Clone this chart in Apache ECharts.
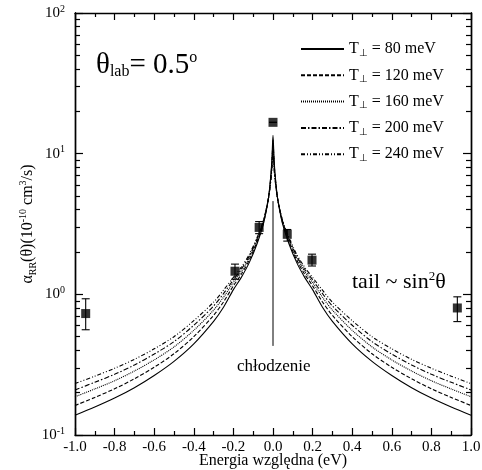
<!DOCTYPE html>
<html><head><meta charset="utf-8">
<script src="https://cdn.jsdelivr.net/npm/echarts@6/dist/echarts.min.js"></script>
<style>html,body{margin:0;padding:0;background:#fff}#c{width:482px;height:470px}</style>
</head><body><div id="c"></div>
<script>
// Energy grid (eV), half side; curves are symmetric about 0
const energyHalf = [0, 0.005, 0.01, 0.02, 0.03, 0.05, 0.08, 0.12, 0.16, 0.2, 0.25, 0.3, 0.4, 0.5, 0.6, 0.7, 0.8, 0.9, 1.0];
const curve80  = [13.5, 9.4, 7.3, 5.2, 4.2, 3.1, 2.30, 1.68, 1.32, 1.08, 0.81, 0.643, 0.445, 0.334, 0.265, 0.217, 0.183, 0.158, 0.138];
const curve120 = [12.5, 8.9, 7.1, 5.17, 4.23, 3.16, 2.375, 1.751, 1.39, 1.149, 0.883, 0.709, 0.50, 0.378, 0.303, 0.251, 0.213, 0.185, 0.162];
const curve160 = [11.7, 8.5, 6.9, 5.15, 4.26, 3.22, 2.443, 1.816, 1.455, 1.214, 0.953, 0.772, 0.555, 0.423, 0.342, 0.285, 0.243, 0.2125, 0.187];
const curve200 = [11.0, 8.2, 6.75, 5.12, 4.28, 3.26, 2.497, 1.869, 1.509, 1.268, 1.012, 0.826, 0.603, 0.461, 0.376, 0.3145, 0.270, 0.237, 0.209];
const curve240 = [10.5, 7.95, 6.6, 5.1, 4.3, 3.3, 2.55, 1.92, 1.56, 1.32, 1.07, 0.88, 0.65, 0.50, 0.41, 0.345, 0.298, 0.262, 0.232];
const curveNames = ['80', '120', '160', '200', '240'];

// measured points
const pointX   = [-0.946, -0.192, -0.07, 0.0, 0.072, 0.197, 0.931];
const pointY   = [0.73, 1.46, 2.99, 16.7, 2.67, 1.75, 0.80];
const pointLow = [0.56, 1.28, 2.70, 16.7, 2.39, 1.59, 0.64];
const pointHigh= [0.93, 1.64, 3.29, 16.7, 2.89, 1.93, 0.96];

// "chłodzenie" (cooling) marker line at E = 0
const coolingX = [0, 0];
const coolingY = [4.6, 0.43];

// tick labels
const xTicks = [-1.0, -0.8, -0.6, -0.4, -0.2, 0.0, 0.2, 0.4, 0.6, 0.8, 1.0];
const yTickValues = [0.1, 1, 10, 100];
const yTickExps = ['-1', '0', '1', '2'];
const yMinorValues = [0.2,0.3,0.4,0.5,0.6,0.7,0.8,0.9,2,3,4,5,6,7,8,9,20,30,40,50,60,70,80,90];

function mirror(ys) {
  const pts = [];
  for (let i = energyHalf.length - 1; i >= 1; i--) pts.push([-energyHalf[i], ys[i]]);
  for (let i = 0; i < energyHalf.length; i++) pts.push([energyHalf[i], ys[i]]);
  return pts;
}

const FONT = 'Liberation Serif';
const dashes = ['solid', [4, 2], [1, 1], [5, 2, 1.5, 2], [4, 2, 1, 2, 1, 2]];
const curves = [curve80, curve120, curve160, curve200, curve240];

const lineSeries = curves.map((c, i) => ({
  name: curveNames[i],
  type: 'line',
  xAxisIndex: 0, yAxisIndex: 0,
  data: mirror(c),
  smooth: 0.3,
  symbol: 'none',
  lineStyle: { color: '#000', width: 1.1, type: dashes[i] },
  itemStyle: { color: '#000' },
  z: 3
}));

const chart = echarts.init(document.getElementById('c'), null, { renderer: 'canvas' });

const axisLineStyle = { show: true, onZero: false, lineStyle: { color: '#000', width: 1.4 } };
const tickStyle = { color: '#000', width: 1.2 };

function yAxisBase(pos) {
  return { type: 'log', position: pos, min: 0.1, max: 100, logBase: 10,
    axisLine: axisLineStyle, splitLine: { show: false } };
}

const option = {
  animation: false,
  backgroundColor: '#fff',
  grid: { left: 75, right: 11, top: 13, bottom: 35, containLabel: false, outerBoundsMode: 'none' },
  legend: {
    orient: 'vertical',
    left: 295, top: 36,
    itemWidth: 43, itemHeight: 14, itemGap: 9.3,
    data: curveNames,
    itemStyle: { opacity: 0 },
    formatter: n => '{t|T}{s|⊥}{t| = ' + n + ' meV}',
    textStyle: {
      fontFamily: FONT, color: '#000',
      rich: {
        t: { fontFamily: FONT, fontSize: 16, color: '#000', lineHeight: 18 },
        s: { fontFamily: FONT, fontSize: 10, color: '#000', lineHeight: 8, verticalAlign: 'bottom' }
      }
    }
  },
  xAxis: [
    {
      type: 'value', position: 'bottom', min: -1, max: 1, interval: 0.2,
      axisLine: axisLineStyle, splitLine: { show: false },
      name: 'Energia względna (eV)', nameLocation: 'middle', nameGap: 18, nameMoveOverlap: false,
      nameTextStyle: { fontFamily: FONT, fontSize: 16, color: '#000' },
      axisTick: { show: true, inside: true, length: 7, lineStyle: tickStyle },
      minorTick: { show: true, splitNumber: 2, length: 4, lineStyle: tickStyle },
      axisLabel: { fontFamily: FONT, fontSize: 15, color: '#000', margin: 5,
        formatter: v => { const t = xTicks.find(a => Math.abs(a - v) < 1e-6); return (t === undefined ? v : t).toFixed(1); } }
    },
    {
      type: 'value', position: 'top', min: -1, max: 1, interval: 0.2,
      axisLine: axisLineStyle, splitLine: { show: false },
      axisTick: { show: true, inside: true, length: 7, lineStyle: tickStyle },
      minorTick: { show: true, splitNumber: 2, length: 4, lineStyle: tickStyle },
      axisLabel: { show: false }
    }
  ],
  yAxis: [
    Object.assign(yAxisBase('left'), {
      name: '{a|α}{sub|RR}{a|(θ)(10}{sup|-10}{a| cm}{sup|3}{a|/s)}',
      nameLocation: 'middle', nameGap: 37, nameRotate: 90, nameMoveOverlap: false,
      nameTextStyle: {
        fontFamily: FONT, fontSize: 16, color: '#000',
        rich: {
          a: { fontFamily: FONT, fontSize: 16, color: '#000', lineHeight: 20 },
          sub: { fontFamily: FONT, fontSize: 10, color: '#000', lineHeight: 10, verticalAlign: 'bottom' },
          sup: { fontFamily: FONT, fontSize: 10, color: '#000', lineHeight: 10, verticalAlign: 'top' }
        }
      },
      axisTick: { show: true, inside: true, length: 8, lineStyle: tickStyle },
      axisLabel: {
        fontFamily: FONT, color: '#000', margin: 10,
        formatter: v => {
          const i = yTickValues.findIndex(t => Math.abs(Math.log10(t) - Math.log10(v)) < 1e-6);
          return i < 0 ? '' : '{b|10}{s|' + yTickExps[i] + '}';
        },
        rich: {
          b: { fontFamily: FONT, fontSize: 15, color: '#000', lineHeight: 18 },
          s: { fontFamily: FONT, fontSize: 10, color: '#000', lineHeight: 10, verticalAlign: 'top' }
        }
      }
    }),
    Object.assign(yAxisBase('right'), {
      axisTick: { show: true, inside: true, length: 8, lineStyle: tickStyle },
      axisLabel: { show: false }
    }),
    Object.assign(yAxisBase('left'), {
      axisTick: { show: true, inside: true, length: 5, customValues: yMinorValues, lineStyle: tickStyle },
      axisLabel: { show: false, customValues: yMinorValues }
    }),
    Object.assign(yAxisBase('right'), {
      axisTick: { show: true, inside: true, length: 5, customValues: yMinorValues, lineStyle: tickStyle },
      axisLabel: { show: false, customValues: yMinorValues }
    })
  ],
  graphic: [
    { type: 'text', left: 96, top: 50, z: 10,
      style: { text: '{a|θ}{sub|lab}{a|= 0.5}{sup|o}', fill: '#000',
        rich: {
          a: { fontFamily: FONT, fontSize: 29, fill: '#000', lineHeight: 30 },
          sub: { fontFamily: FONT, fontSize: 16, fill: '#000', lineHeight: 14, verticalAlign: 'bottom' },
          sup: { fontFamily: FONT, fontSize: 16, fill: '#000', lineHeight: 14, verticalAlign: 'top' }
        } } },
    { type: 'text', left: 352, top: 270, z: 10,
      style: { text: '{a|tail ~ sin}{sup|2}{a|θ}', fill: '#000',
        rich: {
          a: { fontFamily: FONT, fontSize: 22, fill: '#000', lineHeight: 24 },
          sup: { fontFamily: FONT, fontSize: 13, fill: '#000', lineHeight: 12, verticalAlign: 'top' }
        } } },
    { type: 'text', left: 237, top: 358, z: 10,
      style: { text: 'chłodzenie', fontFamily: FONT, fontSize: 17, fill: '#000' } }
  ],
  series: lineSeries.concat([
    {
      name: 'cooling', type: 'line', xAxisIndex: 0, yAxisIndex: 0,
      data: coolingX.map((x, i) => [x, coolingY[i]]),
      symbol: 'none', lineStyle: { color: '#000', width: 1 }, z: 2
    },
    {
      name: 'errors', type: 'custom', xAxisIndex: 0, yAxisIndex: 0,
      data: pointX.map((x, i) => [x, pointLow[i], pointHigh[i]]),
      renderItem: (params, api) => {
        const lo = api.coord([api.value(0), api.value(1)]);
        const hi = api.coord([api.value(0), api.value(2)]);
        const w = 4;
        const ls = { stroke: '#000', lineWidth: 1.1 };
        return { type: 'group', children: [
          { type: 'line', shape: { x1: lo[0], y1: lo[1], x2: hi[0], y2: hi[1] }, style: ls },
          { type: 'line', shape: { x1: lo[0] - w, y1: lo[1], x2: lo[0] + w, y2: lo[1] }, style: ls },
          { type: 'line', shape: { x1: hi[0] - w, y1: hi[1], x2: hi[0] + w, y2: hi[1] }, style: ls }
        ] };
      },
      z: 4
    },
    {
      name: 'points', type: 'scatter', xAxisIndex: 0, yAxisIndex: 0,
      data: pointX.map((x, i) => [x, pointY[i]]),
      symbol: 'rect', symbolSize: 9,
      itemStyle: { color: '#000' }, z: 5
    }
  ])
};
chart.setOption(option);
</script>
</body></html>
